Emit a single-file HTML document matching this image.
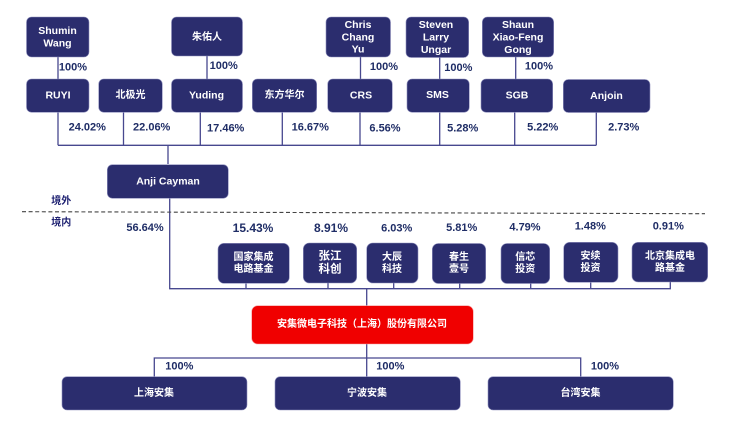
<!DOCTYPE html>
<html lang="zh">
<head>
<meta charset="utf-8">
<style>
html,body{margin:0;padding:0;background:#fff;width:741px;height:437px;overflow:hidden}
svg{display:block;filter:blur(.3px)}
text{font-family:"Liberation Sans","Noto Sans CJK SC",sans-serif;font-weight:700;text-anchor:middle;dominant-baseline:central}
.b rect{fill:#2b2d6e;stroke:#8f90bd;stroke-width:.6}
.b text{fill:#fff;font-size:10.5px}
.c text{font-size:10px}
.p text{fill:#1f2d66;font-size:11px}
.l path{fill:none;stroke:#47488f;stroke-width:1.3}
</style>
</head>
<body>
<svg width="741" height="437" viewBox="0 0 741 437" xmlns="http://www.w3.org/2000/svg">
<g class="l">
<path d="M58 57V79M207 56V79M360.500 57V79M439.700 57V79M515.700 57V79"/>
<path d="M58 112V145.300M123.500 112V145.300M200.300 112V145.300M282.300 112V145.300M360 112V145.300M439.700 112V145.300M514.700 112V145.300M596.300 112V145.300M58 145.300H596.300M168 145.300V164"/>
<path d="M169.700 198V288.700H670.300V282M246 283V288.700M328 283V288.700M393.700 283V288.700M459.700 283V288.700M530.700 283V288.700M590.700 282V288.700M366.700 288.700V306"/>
<path d="M366.700 344V377M154.300 377V358H580.700V377"/>
</g>
<path d="M22 211.700L705 213.700" stroke="#444" stroke-width="1.100" stroke-dasharray="4 2.600" fill="none"/>

<g class="b">
<rect x="26.500" y="17" width="62.500" height="40" rx="5"/>
<rect x="171.500" y="17" width="71" height="39" rx="5"/>
<rect x="326" y="17" width="64.500" height="40" rx="5"/>
<rect x="406" y="17" width="62.700" height="40.500" rx="5"/>
<rect x="482.300" y="17" width="71.400" height="40" rx="5"/>
<rect x="26.500" y="79" width="62.500" height="33.300" rx="5"/>
<rect x="98.700" y="79" width="63.600" height="33.300" rx="5"/>
<rect x="171.500" y="79" width="71" height="33.300" rx="5"/>
<rect x="252.300" y="79" width="64.400" height="33.300" rx="5"/>
<rect x="327.700" y="79" width="64.600" height="33.300" rx="5"/>
<rect x="407" y="79" width="62.300" height="33.300" rx="5"/>
<rect x="481" y="79" width="71.700" height="33.300" rx="5"/>
<rect x="563.300" y="79.500" width="86.700" height="33" rx="5"/>
<rect x="107.300" y="164.700" width="121" height="33.600" rx="5"/>
<rect x="218" y="243.300" width="71.300" height="40" rx="6"/>
<rect x="303.300" y="243" width="53.400" height="40" rx="6"/>
<rect x="366.700" y="243" width="51.300" height="40" rx="6"/>
<rect x="432.300" y="243.500" width="53.400" height="40" rx="6"/>
<rect x="501" y="243.500" width="48.700" height="40" rx="6"/>
<rect x="563.700" y="242.300" width="54.300" height="40" rx="6"/>
<rect x="632" y="242.300" width="75.700" height="39.700" rx="6"/>
<rect x="62" y="376.700" width="185" height="33.300" rx="5"/>
<rect x="275" y="376.700" width="185.300" height="33.300" rx="5"/>
<rect x="488" y="376.700" width="185.300" height="33.300" rx="5"/>
<rect x="251.700" y="305.700" width="221.600" height="38.300" rx="6" style="fill:#f00000;stroke:#f7a0a0"/>

<text x="57.500" y="31">Shumin</text><text x="57.500" y="43.500">Wang</text>
<text x="358" y="25">Chris</text><text x="358" y="37.300">Chang</text><text x="358" y="49.700">Yu</text>
<text x="436" y="25">Steven</text><text x="436" y="37.300">Larry</text><text x="436" y="50">Ungar</text>
<text x="518" y="25">Shaun</text><text x="518" y="37.300">Xiao-Feng</text><text x="518" y="50">Gong</text>
<text x="58" y="95.500">RUYI</text>
<text x="206.500" y="95.500">Yuding</text>
<text x="361" y="95.500">CRS</text>
<text x="437.500" y="95">SMS</text>
<text x="517" y="95.500">SGB</text>
<text x="606.500" y="96">Anjoin</text>
<text x="168" y="181.500">Anji Cayman</text>
<g class="c">
<text x="207" y="37.500">朱佑人</text>
<text x="130.500" y="95.500">北极光</text>
<text x="284.500" y="95.500">东方华尔</text>
<text x="253.500" y="257.500">国家集成</text><text x="253.500" y="269.500">电路基金</text>
<text x="330" y="256.500" style="font-size:11.500px">张江</text><text x="330" y="269.500" style="font-size:11.500px">科创</text>
<text x="392" y="257.500">大辰</text><text x="392" y="269.500">科技</text>
<text x="459" y="257.500">春生</text><text x="459" y="269.500">壹号</text>
<text x="525.300" y="257.500">信芯</text><text x="525.300" y="269.500">投资</text>
<text x="590.500" y="256.500">安续</text><text x="590.500" y="268.500">投资</text>
<text x="670" y="256.500">北京集成电</text><text x="670" y="268.500">路基金</text>
<text x="362" y="324.500">安集微电子科技（上海）股份有限公司</text>
<text x="154" y="393.500">上海安集</text>
<text x="367" y="393.500">宁波安集</text>
<text x="580.500" y="393.500">台湾安集</text>
</g>
</g>

<g class="p">
<text x="73" y="67.700">100%</text>
<text x="223.700" y="66">100%</text>
<text x="384" y="67">100%</text>
<text x="458.300" y="68">100%</text>
<text x="539" y="66.700">100%</text>
<text x="87.300" y="127.700">24.02%</text>
<text x="151.700" y="127.700">22.06%</text>
<text x="225.700" y="128.700">17.46%</text>
<text x="310.300" y="127.700">16.67%</text>
<text x="385" y="128.700">6.56%</text>
<text x="462.700" y="128.300">5.28%</text>
<text x="542.700" y="127.700">5.22%</text>
<text x="623.700" y="127.700">2.73%</text>
<text x="145" y="228">56.64%</text>
<text x="253" y="228" style="font-size:12px">15.43%</text>
<text x="331" y="228" style="font-size:12px">8.91%</text>
<text x="396.700" y="228.300">6.03%</text>
<text x="461.700" y="228">5.81%</text>
<text x="525" y="227.700">4.79%</text>
<text x="590.300" y="226.700">1.48%</text>
<text x="668.300" y="226.700">0.91%</text>
<text x="179.300" y="366.300">100%</text>
<text x="390.300" y="366.300">100%</text>
<text x="605" y="366.300">100%</text>
<text x="61.300" y="201.700" style="font-size:10px;fill:#1c1f70">境外</text>
<text x="61.300" y="223" style="font-size:10px;fill:#1c1f70">境内</text>
</g>
</svg>
</body>
</html>
